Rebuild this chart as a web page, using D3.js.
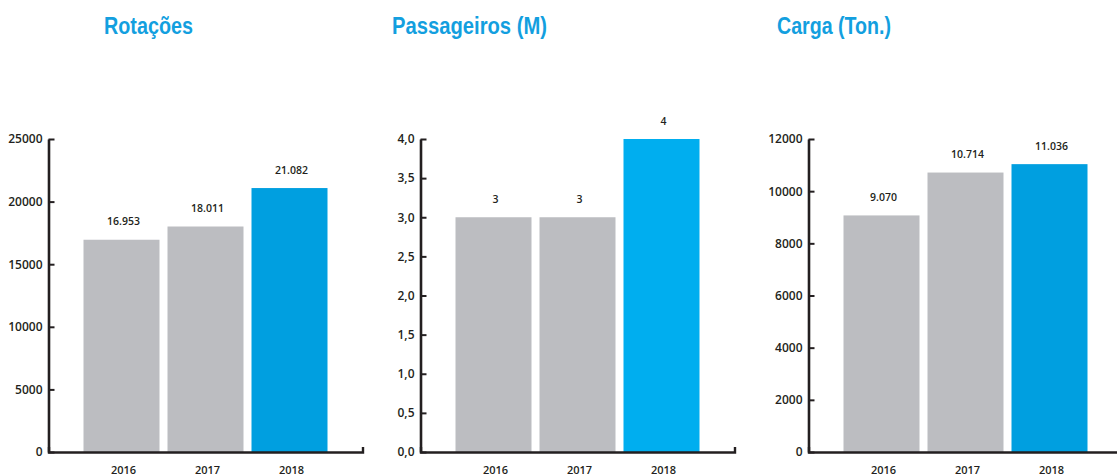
<!DOCTYPE html>
<html lang="pt">
<head>
<meta charset="utf-8">
<script src="https://cdn.jsdelivr.net/npm/d3@7"></script>
<style>
  html, body { margin: 0; padding: 0; background: #fff; }
  svg { display: block; }
  .title { font-family: "Liberation Sans Narrow", "Liberation Sans", sans-serif; font-weight: 700; font-size: 24px; fill: #139fdf; }
  .axis text { font-family: "Open Sans", sans-serif; font-weight: 600; fill: #231f20; }
  .value { font-family: "Open Sans", sans-serif; font-weight: 600; font-size: 10.5px; fill: #231f20; text-anchor: middle; }
</style>
</head>
<body>
<svg id="chart" width="1117" height="476"></svg>
<script>
// Data
const years = ["2016", "2017", "2018"];
const rotacoes = [16953, 18011, 21082];
const passageiros = [3, 3, 4];
const carga = [9070, 10714, 11036];

const titles = ["Rotações", "Passageiros (M)", "Carga (Ton.)"];
const yMax = [25000, 4, 12000];
const yTicks = [
  [0, 5000, 10000, 15000, 20000, 25000],
  [0, 0.5, 1, 1.5, 2, 2.5, 3, 3.5, 4],
  [0, 2000, 4000, 6000, 8000, 10000, 12000]
];

// Portuguese number formatting
const pt = d3.formatLocale({ decimal: ",", thousands: ".", grouping: [3], currency: ["R$", ""] });
const intFmt = pt.format(",d");
const decFmt = pt.format(".1f");
const plainFmt = pt.format("d");

const panels = [
  { title: titles[0], values: rotacoes, max: yMax[0], ticks: yTicks[0], tickFmt: plainFmt, valFmt: intFmt, hi: "#009fe0" },
  { title: titles[1], values: passageiros, max: yMax[1], ticks: yTicks[1], tickFmt: decFmt, valFmt: plainFmt, hi: "#00aeef" },
  { title: titles[2], values: carga, max: yMax[2], ticks: yTicks[2], tickFmt: plainFmt, valFmt: intFmt, hi: "#009fe0" }
];

// Layout
const layout = {
  axisX: [48.5, 420.5, 808.5],
  titleX: [104, 392, 777],
  titleW: [89, 155, 114],
  titleY: 34,
  top: 139,
  bottom: 452,
  width: 314
};
const grey = "#bcbdc1";
const ink = "#231f20";

const svg = d3.select("#chart");

panels.forEach((p, i) => {
  svg.append("text")
    .attr("class", "title")
    .attr("x", layout.titleX[i])
    .attr("y", layout.titleY)
    .attr("textLength", layout.titleW[i])
    .attr("lengthAdjust", "spacingAndGlyphs")
    .text(p.title);

  const g = svg.append("g").attr("transform", `translate(${layout.axisX[i]},0)`);

  const x = d3.scaleBand()
    .domain(years)
    .range([0, layout.width])
    .paddingInner(8 / 84)
    .paddingOuter(35 / 84);

  const y = d3.scaleLinear()
    .domain([0, p.max])
    .range([layout.bottom, layout.top]);

  // Bars
  g.selectAll("rect.bar")
    .data(p.values)
    .join("rect")
    .attr("class", "bar")
    .attr("x", (d, j) => x(years[j]))
    .attr("width", x.bandwidth())
    .attr("y", d => y(d))
    .attr("height", d => y(0) - y(d))
    .attr("fill", (d, j) => j === years.length - 1 ? p.hi : grey);

  // Value labels
  g.selectAll("text.value")
    .data(p.values)
    .join("text")
    .attr("class", "value")
    .attr("x", (d, j) => x(years[j]) + x.bandwidth() / 2 + 2)
    .attr("y", d => y(d) - 14.5)
    .text(d => p.valFmt(d));

  // Y axis with ticks pointing inward
  const yAxis = g.append("g")
    .attr("class", "axis")
    .call(d3.axisLeft(y).tickValues(p.ticks).tickFormat(p.tickFmt)
      .tickSizeInner(-6).tickSizeOuter(0).tickPadding(6));
  yAxis.select(".domain").attr("stroke", ink).attr("stroke-width", 2.6);
  yAxis.selectAll(".tick line").attr("stroke", ink).attr("stroke-width", 2);
  yAxis.selectAll(".tick text").attr("font-size", 12);

  // X axis
  const xAxis = g.append("g")
    .attr("class", "axis")
    .attr("transform", `translate(0,${layout.bottom})`)
    .call(d3.axisBottom(x).tickSizeInner(0).tickSizeOuter(-5).tickPadding(14));
  xAxis.select(".domain").attr("stroke", ink).attr("stroke-width", 2.4).attr("fill", "none");
  xAxis.selectAll(".tick line").remove();
  xAxis.selectAll(".tick text").attr("font-size", 11).attr("dx", 2);
});
</script>
</body>
</html>
